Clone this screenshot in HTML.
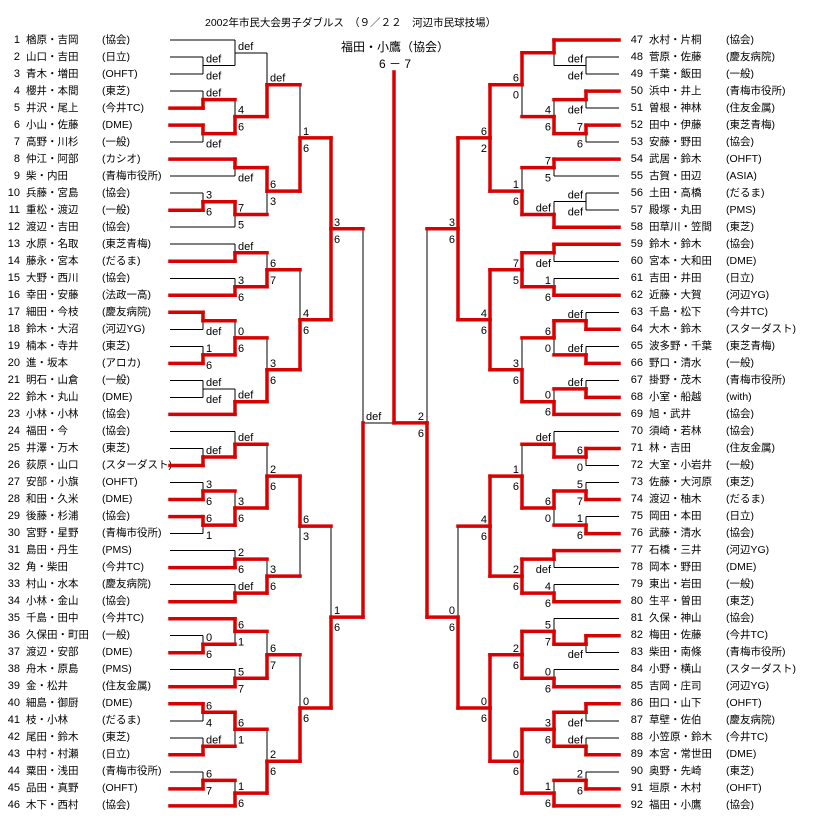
<!DOCTYPE html>
<html><head><meta charset="utf-8">
<style>
html,body{margin:0;padding:0;background:#fff;}
body{width:819px;height:829px;position:relative;overflow:hidden;font-family:"Liberation Sans","Noto Sans CJK JP",sans-serif;color:#000;}
.col{position:absolute;top:31.5px;line-height:17.02px;font-size:11px;white-space:pre;}
.nm{font-size:10.5px;}
.num{text-align:right;width:20px;}
svg{position:absolute;left:0;top:0;}
.t{position:absolute;white-space:pre;}
</style></head><body>
<div class="t" style="left:205px;top:15px;font-size:10.5px;">2002年市民大会男子ダブルス　（９／２２　河辺市民球技場）</div>
<div class="t" style="left:330px;width:130px;text-align:center;top:38px;font-size:12px;">福田・小鷹（協会）</div>
<div class="t" style="left:330px;width:130px;text-align:center;top:55px;font-size:12px;">6 － 7</div>

<div class="col num" style="left:0px;">1<br>2<br>3<br>4<br>5<br>6<br>7<br>8<br>9<br>10<br>11<br>12<br>13<br>14<br>15<br>16<br>17<br>18<br>19<br>20<br>21<br>22<br>23<br>24<br>25<br>26<br>27<br>28<br>29<br>30<br>31<br>32<br>33<br>34<br>35<br>36<br>37<br>38<br>39<br>40<br>41<br>42<br>43<br>44<br>45<br>46</div>
<div class="col nm" style="left:26px;">楢原・吉岡<br>山口・吉田<br>青木・増田<br>櫻井・本間<br>井沢・尾上<br>小山・佐藤<br>高野・川杉<br>仲江・阿部<br>柴・内田<br>兵藤・宮島<br>重松・渡辺<br>渡辺・吉田<br>水原・名取<br>藤永・宮本<br>大野・西川<br>幸田・安藤<br>細田・今枝<br>鈴木・大沼<br>楠本・寺井<br>進・坂本<br>明石・山倉<br>鈴木・丸山<br>小林・小林<br>福田・今<br>井澤・万木<br>荻原・山口<br>安部・小旗<br>和田・久米<br>後藤・杉浦<br>宮野・星野<br>島田・丹生<br>角・柴田<br>村山・水本<br>小林・金山<br>千島・田中<br>久保田・町田<br>渡辺・安部<br>舟木・原島<br>金・松井<br>細島・御厨<br>枝・小林<br>尾田・鈴木<br>中村・村瀬<br>粟田・浅田<br>品田・真野<br>木下・西村</div>
<div class="col nm" style="left:102px;">(協会)<br>(日立)<br>(OHFT)<br>(東芝)<br>(今井TC)<br>(DME)<br>(一般)<br>(カシオ)<br>(青梅市役所)<br>(協会)<br>(一般)<br>(協会)<br>(東芝青梅)<br>(だるま)<br>(協会)<br>(法政一高)<br>(慶友病院)<br>(河辺YG)<br>(東芝)<br>(アロカ)<br>(一般)<br>(DME)<br>(協会)<br>(協会)<br>(東芝)<br>(スターダスト)<br>(OHFT)<br>(DME)<br>(協会)<br>(青梅市役所)<br>(PMS)<br>(今井TC)<br>(慶友病院)<br>(協会)<br>(今井TC)<br>(一般)<br>(DME)<br>(PMS)<br>(住友金属)<br>(DME)<br>(だるま)<br>(東芝)<br>(日立)<br>(青梅市役所)<br>(OHFT)<br>(協会)</div>

<div class="col num" style="left:623px;">47<br>48<br>49<br>50<br>51<br>52<br>53<br>54<br>55<br>56<br>57<br>58<br>59<br>60<br>61<br>62<br>63<br>64<br>65<br>66<br>67<br>68<br>69<br>70<br>71<br>72<br>73<br>74<br>75<br>76<br>77<br>78<br>79<br>80<br>81<br>82<br>83<br>84<br>85<br>86<br>87<br>88<br>89<br>90<br>91<br>92</div>
<div class="col nm" style="left:649px;">水村・片桐<br>菅原・佐藤<br>千葉・飯田<br>浜中・井上<br>曽根・神林<br>田中・伊藤<br>安藤・野田<br>武居・鈴木<br>古賀・田辺<br>土田・高橋<br>殿塚・丸田<br>田草川・笠間<br>鈴木・鈴木<br>宮本・大和田<br>吉田・井田<br>近藤・大賀<br>千島・松下<br>大木・鈴木<br>波多野・千葉<br>野口・清水<br>掛野・茂木<br>小室・船越<br>旭・武井<br>須崎・若林<br>林・吉田<br>大室・小岩井<br>佐藤・大河原<br>渡辺・柚木<br>岡田・本田<br>武藤・清水<br>石橋・三井<br>岡本・野田<br>東出・岩田<br>生平・曽田<br>久保・神山<br>梅田・佐藤<br>柴田・南條<br>小野・横山<br>吉岡・庄司<br>田口・山下<br>草壁・佐伯<br>小笠原・鈴木<br>本宮・常世田<br>奥野・先崎<br>垣原・木村<br>福田・小鷹</div>
<div class="col nm" style="left:726px;">(協会)<br>(慶友病院)<br>(一般)<br>(青梅市役所)<br>(住友金属)<br>(東芝青梅)<br>(協会)<br>(OHFT)<br>(ASIA)<br>(だるま)<br>(PMS)<br>(東芝)<br>(協会)<br>(DME)<br>(日立)<br>(河辺YG)<br>(今井TC)<br>(スターダスト)<br>(東芝青梅)<br>(一般)<br>(青梅市役所)<br>(with)<br>(協会)<br>(協会)<br>(住友金属)<br>(一般)<br>(東芝)<br>(だるま)<br>(日立)<br>(協会)<br>(河辺YG)<br>(DME)<br>(一般)<br>(東芝)<br>(協会)<br>(今井TC)<br>(青梅市役所)<br>(スターダスト)<br>(河辺YG)<br>(OHFT)<br>(慶友病院)<br>(今井TC)<br>(DME)<br>(東芝)<br>(OHFT)<br>(協会)</div>

<svg id="g" width="819" height="829" xmlns="http://www.w3.org/2000/svg"></svg>
<script>
var L=[
 [[[[1,[2,3,'def','def',''],'def','',''],[[4,5,'def','','b'],[6,7,'','def','t'],'4','6','b'],'def','','b'],
   [[8,9,'','def','t'],[[10,11,'3','6','b'],12,'7','5','t'],'6','3','t'],'1','6','b'],
  [[[13,14,'def','','b'],[15,16,'3','6','b'],'6','7','b'],
   [[[17,18,'','def','t'],[19,20,'1','6','b'],'0','6','b'],[[21,22,'def','def',''],23,'def','','b'],'3','6','b'],'4','6','b'],'3','6','tb'],
 [[[[24,[25,26,'def','','b'],'def','','b'],[[27,28,'3','6','b'],[29,30,'6','1','t'],'3','6','b'],'2','6','b'],
   [[31,32,'2','6','b'],[33,34,'def','','b'],'3','6','b'],'6','3','t'],
  [[[35,[36,37,'0','6','b'],'6','1','t'],[38,39,'5','7','b'],'6','7','b'],
   [[[40,41,'6','4','t'],[42,43,'def','','b'],'6','1','t'],[[44,45,'6','7','b'],46,'1','6','b'],'2','6','b'],'0','6','b'],'1','6','b'],
 'def','','b'];
var R=[
 [[[[47,[48,49,'def','def',''],'','','t'],[[50,51,'','def','t'],[52,53,'7','6','t'],'4','6','b'],'6','0','t'],
   [[54,55,'7','5','t'],[[56,57,'def','def',''],58,'def','','b'],'1','6','b'],'6','2','tb'],
  [[[59,60,'','def','t'],[61,62,'1','6','b'],'7','5','tb'],
   [[[63,64,'def','','b'],[65,66,'def','','b'],'6','0','t'],[[67,68,'def','','b'],69,'0','6','b'],'3','6','b'],'4','6','tb'],'3','6','tb'],
 [[[[70,[71,72,'6','0','t'],'def','','b'],[[73,74,'5','7','b'],[75,76,'1','6','b'],'6','0','t'],'1','6','b'],
   [[77,78,'','def','t'],[79,80,'4','6','b'],'2','6','tb'],'4','6','tb'],
  [[[81,[82,83,'','def','t'],'5','7','b'],[84,85,'0','6','b'],'2','6','tb'],
   [[[86,87,'','def','t'],[88,89,'def','','b'],'3','6','tb'],[[90,91,'2','6','b'],92,'1','6','b'],'0','6','tb'],'0','6','tb'],'0','6','b'],
 '2','6','b'];
var colL=[363,331,300,267,235,203],colR=[427,458,490,522,554,586];
var blk=[],red=[],lab=[];
function rowY(i){return 40+((i-1)%46)*17.02;}
function ln(a,x1,y1,x2,y2){a.push('<line x1="'+x1+'" y1="'+y1.toFixed(1)+'" x2="'+x2+'" y2="'+y2.toFixed(1)+'"/>');}
function draw(n,d,s){
 if(typeof n==='number'){return {y:rowY(n),x:s==='L'?170:619,leaf:true};}
 var x=(s==='L'?colL:colR)[d];
 var T=draw(n[0],d+1,s),B=draw(n[1],d+1,s);
 var y=(T.y+B.y)/2,w=n[4];
 [[T,'t'],[B,'b']].forEach(function(p){
  var C=p[0],won=w.indexOf(p[1])>=0;
  var hr=C.leaf?won:C.hasW;
  ln(hr?red:blk,C.x,C.y,x,C.y);
  ln(won?red:blk,x,C.y,x,y);
 });
 var tx=s==='L'?x+3:x-3,an=s==='L'?'start':'end';
 if(n[2])lab.push('<text x="'+tx+'" y="'+(y-3).toFixed(1)+'" text-anchor="'+an+'">'+n[2]+'</text>');
 if(n[3])lab.push('<text x="'+tx+'" y="'+(y+14).toFixed(1)+'" text-anchor="'+an+'">'+n[3]+'</text>');
 return {y:y,x:x,hasW:w!==''};
}
var a=draw(L,0,'L'),b=draw(R,0,'R');
ln(blk,363,a.y,394,a.y);
ln(red,427,b.y,394,b.y);
ln(red,394,72,394,b.y);
document.getElementById('g').innerHTML=
 '<g stroke="#000" stroke-width="1" shape-rendering="crispEdges">'+blk.join('')+'</g>'+
 '<g stroke="#d90000" stroke-width="3.5" stroke-linecap="square">'+red.join('')+'</g>'+
 '<g font-family="Liberation Sans, sans-serif" font-size="11" fill="#000">'+lab.join('')+'</g>';
</script>
</body></html>
